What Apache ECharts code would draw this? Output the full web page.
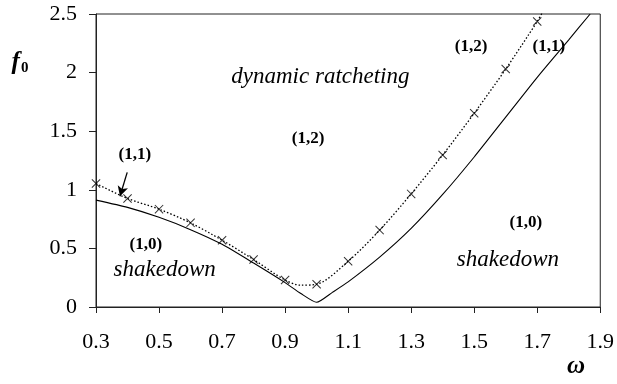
<!DOCTYPE html>
<html>
<head>
<meta charset="utf-8">
<script src="https://cdn.jsdelivr.net/npm/echarts@6/dist/echarts.min.js"></script>
<style>html,body{margin:0;padding:0;background:#fff;}#c{width:617px;height:384px;}</style>
</head>
<body>
<div id="c"></div>
<script>
// x tick labels / y ticks
const xTicks = [0.3, 0.5, 0.7, 0.9, 1.1, 1.3, 1.5, 1.7, 1.9];
const yTicks = [0, 0.5, 1, 1.5, 2, 2.5];

// solid boundary curve (omega, f0)
const solidOmega = [0.3, 0.4, 0.5, 0.6, 0.7, 0.8, 0.9, 0.95, 1.0, 1.05, 1.1, 1.2, 1.3, 1.4, 1.5, 1.6, 1.7, 1.8, 1.868];
const solidF0    = [0.912, 0.85, 0.765, 0.66, 0.535, 0.375, 0.208, 0.115, 0.04, 0.125, 0.214, 0.425, 0.67, 0.96, 1.28, 1.62, 1.96, 2.28, 2.5];

// dotted boundary with x markers
const markOmega = [0.3, 0.4, 0.5, 0.6, 0.7, 0.8, 0.9, 1.0, 1.1, 1.2, 1.3, 1.4, 1.5, 1.6, 1.7];
const markF0    = [1.054, 0.926, 0.835, 0.718, 0.57, 0.405, 0.23, 0.194, 0.39, 0.656, 0.965, 1.297, 1.653, 2.03, 2.436];
// dotted line path (marker points plus read-off bend and tail)
const dotOmega = [0.3, 0.4, 0.5, 0.6, 0.7, 0.8, 0.9, 0.95, 1.0, 1.1, 1.2, 1.3, 1.4, 1.5, 1.6, 1.7, 1.715];
const dotF0    = [1.054, 0.926, 0.835, 0.718, 0.57, 0.405, 0.23, 0.186, 0.194, 0.39, 0.656, 0.965, 1.297, 1.653, 2.03, 2.436, 2.507];

// arrow annotation (from, to) in data coords
const arrowFrom = [0.399, 1.149];
const arrowTo   = [0.376, 0.945];

// region annotations
const annTexts = ['(1,1)', 'dynamic ratcheting', '(1,2)', '(1,2)', '(1,1)', '(1,0)', 'shakedown', '(1,0)', 'shakedown'];
const annOmega = [0.423, 1.012, 0.973, 1.490, 1.737, 0.458, 0.518, 1.664, 1.607];
const annF0    = [1.296, 1.964, 1.441, 2.226, 2.226, 0.535, 0.313, 0.723, 0.399];
const annItalic = [false, true, false, false, false, false, true, false, true];

const serif = "'Liberation Serif', 'Times New Roman', Times, serif";
const ink = '#000';
const axisInk = '#222';

const chart = echarts.init(document.getElementById('c'), null, {renderer: 'canvas'});

const crossPath = 'path://M0,0.8 L0.8,0 L10,9.2 L9.2,10 Z M9.2,0 L10,0.8 L0.8,10 L0,9.2 Z';

chart.setOption({
  animation: false,
  backgroundColor: '#fff',
  grid: {left: 96, right: 15, top: 14, bottom: 77, show: true, borderColor: axisInk, borderWidth: 1, backgroundColor: 'transparent'},
  xAxis: {
    type: 'value', min: xTicks[0], max: xTicks[xTicks.length - 1], interval: 0.2,
    axisLine: {show: true, onZero: false, lineStyle: {color: axisInk, width: 1}},
    axisTick: {show: true, inside: false, length: 6, lineStyle: {color: axisInk}},
    splitLine: {show: false},
    axisLabel: {color: ink, fontFamily: serif, fontSize: 22, margin: 24,
      formatter: v => (Math.round(v * 10) / 10).toFixed(1)}
  },
  yAxis: {
    type: 'value', min: yTicks[0], max: yTicks[yTicks.length - 1], interval: 0.5,
    axisLine: {show: true, lineStyle: {color: axisInk, width: 1}},
    axisTick: {show: true, inside: false, length: 7, lineStyle: {color: axisInk}},
    splitLine: {show: false},
    axisLabel: {color: ink, fontFamily: serif, fontSize: 22, margin: 19,
      formatter: v => String(Math.round(v * 10) / 10)}
  },
  series: [
    {
      type: 'line', name: 'solid', silent: true,
      data: solidOmega.map((x, i) => [x, solidF0[i]]),
      showSymbol: false, symbol: 'none', smooth: 0.2,
      lineStyle: {color: ink, width: 1.1}
    },
    {
      type: 'line', name: 'dotted', silent: true,
      data: dotOmega.map((x, i) => [x, dotF0[i]]),
      showSymbol: false, symbol: 'none', smooth: 0.3,
      lineStyle: {color: ink, width: 1.3, type: [1.5, 2]}
    },
    {
      type: 'scatter', name: 'markers', silent: true,
      data: markOmega.map((x, i) => [x, markF0[i]]),
      symbol: crossPath, symbolSize: 9,
      itemStyle: {color: ink},
      markLine: {
        silent: true, animation: false,
        symbol: ['none', 'arrow'], symbolSize: [8, 10],
        label: {show: false},
        lineStyle: {color: ink, width: 1.3, type: 'solid'},
        data: [[{coord: arrowFrom}, {coord: arrowTo}]]
      }
    }
  ]
});

const graphics = annTexts.map((t, i) => {
  const p = chart.convertToPixel({gridIndex: 0}, [annOmega[i], annF0[i]]);
  return {
    type: 'text', x: p[0], y: p[1], silent: true,
    style: {
      text: t, fill: ink,
      font: annItalic[i] ? ('italic 23px ' + serif) : ('bold 17px ' + serif),
      textAlign: 'center', textVerticalAlign: 'middle'
    }
  };
});
graphics.push({
  type: 'text', x: 20, y: 63, silent: true,
  style: {
    text: '{f|f}{s|0}', textAlign: 'center', textVerticalAlign: 'middle',
    rich: {
      f: {font: 'bold italic 25px ' + serif, fill: ink},
      s: {font: 'bold 15px ' + serif, fill: ink, padding: [10, 0, 0, 1]}
    }
  }
});
graphics.push({
  type: 'text', x: 576, y: 367, silent: true,
  style: {text: 'ω', font: 'bold italic 25px ' + serif, fill: ink, textAlign: 'center', textVerticalAlign: 'middle'}
});
chart.setOption({graphic: graphics});
</script>
</body>
</html>
